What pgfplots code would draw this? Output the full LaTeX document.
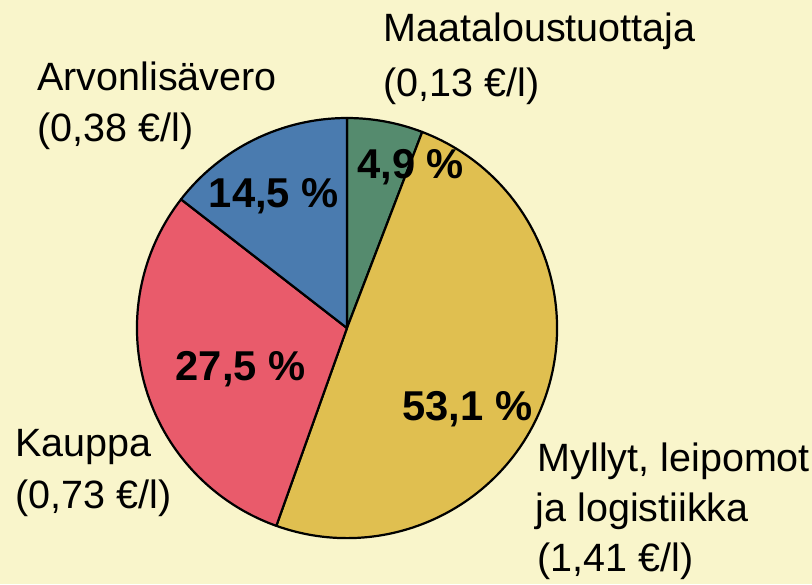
\documentclass[border=0pt]{standalone}
\usepackage{pgfplots}
\pgfplotsset{compat=1.18}
\usepackage{pgfplotstable}
\usepackage{fontspec}
\setmainfont{Liberation Sans}
\definecolor{bgc}{HTML}{F9F5CB}
\definecolor{cgreen}{HTML}{558B6E}
\definecolor{cyellow}{HTML}{E0BF50}
\definecolor{cred}{HTML}{E95B6B}
\definecolor{cblue}{HTML}{4A7BAF}
\tikzset{
  lbl/.style={anchor=base west, inner sep=0pt, font=\fontsize{10.7}{13}\selectfont},
  pct/.style={anchor=base west, inner sep=0pt, font=\fontsize{11.3}{13}\selectfont\bfseries}}

% shares of the circle as drawn (percent), clockwise from 12 o'clock
\pgfplotstableread{
share
5.83
49.63
30.04
14.50
}\piedata

\pgfplotstablegetelem{0}{share}\of\piedata \let\sA\pgfplotsretval
\pgfplotstablegetelem{1}{share}\of\piedata \let\sB\pgfplotsretval
\pgfplotstablegetelem{2}{share}\of\piedata \let\sC\pgfplotsretval
\pgfplotstablegetelem{3}{share}\of\piedata \let\sD\pgfplotsretval
\pgfmathsetmacro{\aA}{90-3.6*\sA}
\pgfmathsetmacro{\aB}{\aA-3.6*\sB}
\pgfmathsetmacro{\aC}{\aB-3.6*\sC}
\pgfmathsetmacro{\aD}{\aC-3.6*\sD}

\begin{document}
\begin{tikzpicture}
\begin{axis}[x=2cm, y=2cm, xmin=-1.652, xmax=2.214, ymin=-1.219, ymax=1.562,
  hide axis, clip=false]
\fill[bgc] (axis cs:-1.652,-1.219) rectangle (axis cs:2.214,1.562);
\filldraw[fill=cgreen, draw=black, line width=0.6pt, line join=round] (axis cs:0,0) -- (axis cs:0,1) arc[start angle=90, end angle=\aA, radius=2cm] -- cycle;
\filldraw[fill=cyellow, draw=black, line width=0.6pt, line join=round] (axis cs:0,0) -- (axis cs:{cos(\aA)},{sin(\aA)}) arc[start angle=\aA, end angle=\aB, radius=2cm] -- cycle;
\filldraw[fill=cred, draw=black, line width=0.6pt, line join=round] (axis cs:0,0) -- (axis cs:{cos(\aB)},{sin(\aB)}) arc[start angle=\aB, end angle=\aC, radius=2cm] -- cycle;
\filldraw[fill=cblue, draw=black, line width=0.6pt, line join=round] (axis cs:0,0) -- (axis cs:{cos(\aC)},{sin(\aC)}) arc[start angle=\aC, end angle=\aD, radius=2cm] -- cycle;

\node[pct] at (axis cs:0.0462,0.7129) {4,9 \%};
\node[pct] at (axis cs:-0.6605,0.5748) {14,5 \%};
\node[pct] at (axis cs:-0.819,-0.2476) {27,5 \%};
\node[pct] at (axis cs:0.2605,-0.4381) {53,1 \%};

\node[lbl] at (axis cs:0.1714,1.3633) {Maataloustuottaja};
\node[lbl] at (axis cs:0.1714,1.1024) {(0,13 €/l)};
\node[lbl] at (axis cs:-1.4776,1.1333) {Arvonlisävero};
\node[lbl] at (axis cs:-1.4776,0.8871) {(0,38 €/l)};
\node[lbl] at (axis cs:-1.581,-0.6129) {Kauppa};
\node[lbl] at (axis cs:-1.581,-0.8586) {(0,73 €/l)};
\node[lbl] at (axis cs:0.905,-0.6843) {Myllyt, leipomot};
\node[lbl] at (axis cs:0.895,-0.9224) {ja logistiikka};
\node[lbl] at (axis cs:0.905,-1.1605) {(1,41 €/l)};
\end{axis}
\end{tikzpicture}
\end{document}
